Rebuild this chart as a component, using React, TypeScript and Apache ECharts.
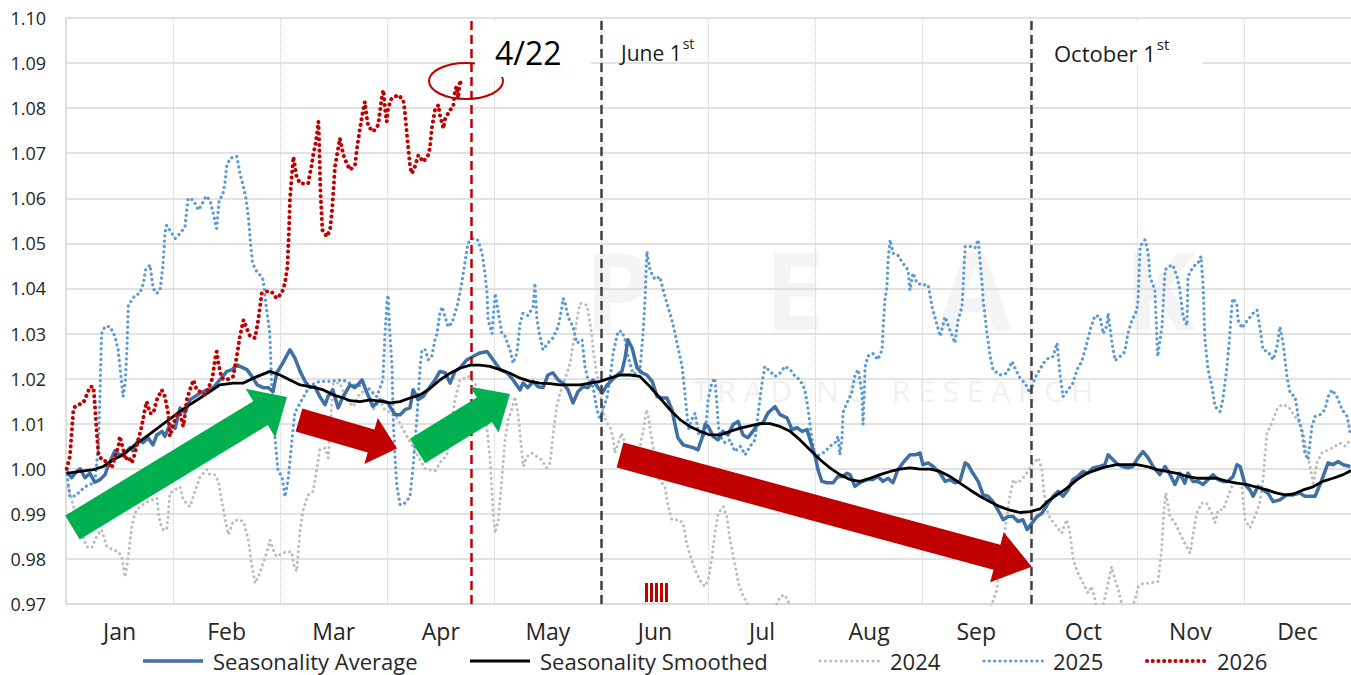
import React, { useEffect, useRef } from "react";
import * as echarts from "echarts";

// ---------- DATA ----------
const MONTHS = ["Jan", "Feb", "Mar", "Apr", "May", "Jun", "Jul", "Aug", "Sep", "Oct", "Nov", "Dec"];
const Y_MIN = 0.97;
const Y_MAX = 1.1;
const Y_STEP = 0.01;
const YEAR_DAYS = 365;
// vertical marker positions (day of year)
const MARK_APR22 = 115.2;
const MARK_JUN1 = 152.1;
const MARK_OCT1 = 274.3;
const SERIES_NAMES = ["Seasonality Average", "Seasonality Smoothed", "2024", "2025", "2026"];

// [day of year, value]
const seasonalityAverage: [number, number][] = [
  [0.2, 0.9994], [1.6, 0.998], [2.6, 0.999], [4.0, 1.0], [5.4, 0.998], [6.8, 0.999], [8.2, 0.997], [9.7, 0.9976],
  [11.1, 0.9987], [11.9, 1.0005], [13.9, 1.004], [15.3, 1.003], [16.8, 1.0035], [18.2, 1.0047], [19.0, 1.004],
  [20.5, 1.0064], [21.9, 1.0058], [23.3, 1.0069], [24.7, 1.0053], [25.8, 1.0075], [27.3, 1.0083], [28.1, 1.0072],
  [29.5, 1.0098], [31.0, 1.009], [32.4, 1.0135], [33.8, 1.0124], [35.2, 1.0153], [36.6, 1.016], [38.1, 1.0168],
  [40.1, 1.0175], [41.8, 1.018], [43.7, 1.0197], [45.7, 1.0216], [47.2, 1.022], [48.6, 1.023], [49.4, 1.0227],
  [51.4, 1.022], [52.8, 1.0205], [54.3, 1.0186], [56.0, 1.018], [57.4, 1.018], [58.8, 1.0171], [59.9, 1.0213],
  [61.6, 1.0235], [63.6, 1.0264], [65.0, 1.0246], [66.5, 1.0216], [67.9, 1.0194], [69.3, 1.018], [70.7, 1.0182],
  [72.1, 1.016], [73.6, 1.0142], [74.4, 1.016], [75.8, 1.0175], [77.3, 1.0135], [78.7, 1.016], [80.7, 1.0186],
  [82.1, 1.018], [84.1, 1.0197], [85.5, 1.0168], [87.2, 1.0138], [89.2, 1.0153], [91.5, 1.0146], [92.0, 1.0138],
  [93.5, 1.012], [94.9, 1.012], [96.3, 1.0131], [97.7, 1.0135], [98.6, 1.0175], [100.0, 1.0153], [101.4, 1.016],
  [103.4, 1.0182], [104.8, 1.0197], [106.2, 1.0216], [107.7, 1.0213], [109.1, 1.019], [110.5, 1.0216], [111.9, 1.0224],
  [113.9, 1.0242], [115.6, 1.0249], [117.6, 1.0257], [119.6, 1.026], [121.3, 1.0242], [123.3, 1.022], [125.3, 1.0213],
  [127.0, 1.0197], [129.0, 1.0175], [129.8, 1.019], [131.2, 1.018], [132.7, 1.0194], [134.1, 1.0182], [135.5, 1.018],
  [136.9, 1.0208], [138.3, 1.0213], [139.8, 1.0197], [141.2, 1.019], [142.6, 1.0175], [144.0, 1.0146], [145.4, 1.0171],
  [146.9, 1.0182], [148.3, 1.018], [149.7, 1.0197], [151.1, 1.018], [152.3, 1.0168], [153.7, 1.0186], [155.1, 1.0197],
  [156.5, 1.0208], [157.9, 1.0216], [158.8, 1.0246], [159.6, 1.0286], [160.8, 1.0268], [162.2, 1.0224], [163.6, 1.0213],
  [165.0, 1.0208], [166.5, 1.0194], [167.9, 1.016], [169.3, 1.0157], [170.7, 1.0157], [172.1, 1.0131], [173.0, 1.0098],
  [173.8, 1.0069], [175.3, 1.0053], [176.7, 1.005], [178.1, 1.0047], [179.5, 1.0042], [180.7, 1.0069], [181.5, 1.0098],
  [182.4, 1.0094], [183.8, 1.0072], [185.2, 1.0064], [186.6, 1.0083], [188.0, 1.0075], [189.5, 1.0098], [190.9, 1.0105],
  [192.3, 1.0075], [193.7, 1.0069], [195.1, 1.0083], [196.5, 1.0098], [198.0, 1.0102], [199.4, 1.0124], [201.4, 1.0138],
  [202.8, 1.012], [204.8, 1.0113], [206.2, 1.0087], [207.6, 1.0091], [209.1, 1.0083], [210.5, 1.0087], [211.9, 1.005],
  [212.8, 1.0027], [213.6, 0.9998], [214.7, 0.9972], [216.2, 0.9969], [217.9, 0.9969], [219.3, 0.9983], [220.7, 0.9983],
  [221.8, 0.999], [222.7, 0.9987], [224.1, 0.9961], [225.5, 0.9969], [227.5, 0.9976], [229.2, 0.9976], [230.6, 0.9983],
  [232.1, 0.9972], [233.5, 0.9979], [234.9, 0.9969], [236.3, 0.9998], [237.7, 1.0013], [239.7, 1.0031], [241.2, 1.0031],
  [242.6, 1.0035], [243.4, 1.0009], [244.9, 1.0013], [246.3, 1.0005], [248.3, 0.999], [249.7, 0.9972], [251.1, 0.9976],
  [252.5, 0.9969], [253.9, 0.9972], [255.4, 1.0013], [256.2, 1.0009], [257.6, 0.999], [259.1, 0.9972], [260.5, 0.9942],
  [261.9, 0.9939], [263.3, 0.9927], [264.7, 0.9909], [266.2, 0.9887], [267.6, 0.9894], [269.0, 0.9894], [270.4, 0.9883],
  [271.8, 0.9887], [273.0, 0.9865], [274.4, 0.988], [275.8, 0.9894], [277.3, 0.9902], [278.7, 0.992], [280.4, 0.9939],
  [281.8, 0.995], [283.2, 0.9939], [284.6, 0.9953], [286.0, 0.9976], [287.4, 0.9983], [288.8, 0.9994], [290.2, 0.999],
  [291.7, 1.0002], [293.7, 1.0005], [295.1, 1.0009], [296.0, 1.0031], [297.4, 1.002], [298.8, 1.0009], [300.2, 1.0005],
  [301.6, 1.0002], [303.0, 1.0005], [304.5, 1.0024], [305.9, 1.0038], [307.4, 1.0024], [308.8, 1.0005], [310.7, 0.9987],
  [312.2, 1.0005], [313.6, 0.9987], [315.0, 0.9965], [316.4, 0.999], [317.8, 0.9968], [318.7, 0.999], [320.1, 0.9972],
  [321.5, 0.9972], [323.0, 0.9965], [324.4, 0.9976], [325.8, 0.9987], [327.2, 0.9976], [328.6, 0.9972], [330.0, 0.9972],
  [331.5, 0.9983], [332.6, 1.0009], [333.5, 1.0005], [334.9, 0.9965], [336.3, 0.9953], [337.2, 0.9939], [338.6, 0.9961],
  [340.0, 0.9953], [341.4, 0.9946], [342.9, 0.9927], [344.8, 0.9931], [346.8, 0.9942], [348.6, 0.9942], [350.5, 0.9946],
  [351.9, 0.9939], [353.4, 0.9939], [354.8, 0.9939], [356.2, 0.9965], [357.6, 0.9994], [358.5, 1.0013], [359.9, 1.0009],
  [361.3, 1.0016], [362.8, 1.0009], [364.8, 1.0005],
];

const seasonalitySmoothed: [number, number][] = [
  [0.2, 0.999], [4.0, 0.9994], [7.8, 0.9998], [10.6, 1.0005], [13.4, 1.002], [16.3, 1.0031], [19.1, 1.005],
  [22.9, 1.0072], [26.7, 1.0094], [30.5, 1.0116], [34.3, 1.0138], [38.1, 1.0157], [40.9, 1.0171], [43.7, 1.0186],
  [47.5, 1.019], [50.4, 1.019], [53.2, 1.0201], [56.0, 1.021], [57.9, 1.0216], [60.8, 1.0208], [63.6, 1.0197],
  [66.5, 1.0186], [70.2, 1.0181], [73.1, 1.0175], [75.9, 1.0164], [78.8, 1.0157], [80.7, 1.0151], [83.5, 1.0149],
  [86.4, 1.0153], [90.1, 1.0149], [92.0, 1.0146], [94.9, 1.0149], [97.7, 1.0157], [100.6, 1.0164], [103.4, 1.0178],
  [106.2, 1.0197], [109.1, 1.0212], [111.9, 1.0223], [114.8, 1.023], [117.6, 1.023], [120.4, 1.0227], [123.3, 1.022],
  [126.1, 1.0212], [129.0, 1.0201], [131.8, 1.0194], [134.6, 1.019], [137.5, 1.0189], [140.3, 1.0186], [143.2, 1.0186],
  [146.0, 1.0186], [148.8, 1.019], [151.7, 1.0194], [154.5, 1.0201], [157.4, 1.0208], [160.2, 1.0208], [163.0, 1.0205],
  [165.9, 1.0182], [168.7, 1.0157], [171.6, 1.0131], [174.4, 1.0109], [177.2, 1.0094], [180.1, 1.0083], [182.9, 1.0075],
  [185.8, 1.0075], [188.6, 1.0083], [191.5, 1.009], [194.3, 1.0095], [197.1, 1.01], [200.0, 1.01], [202.8, 1.0094],
  [205.7, 1.0083], [208.5, 1.0064], [211.3, 1.0042], [214.2, 1.002], [217.0, 1.0002], [219.8, 0.9987], [222.7, 0.9976],
  [225.5, 0.9972], [228.4, 0.9979], [231.2, 0.9987], [234.1, 0.9994], [236.9, 0.9999], [239.7, 1.0002], [242.6, 0.9999],
  [245.4, 0.9999], [248.3, 0.9994], [251.1, 0.9983], [253.9, 0.9968], [256.8, 0.9953], [259.6, 0.9939], [262.5, 0.9927],
  [265.3, 0.9916], [268.1, 0.9908], [271.0, 0.9903], [273.8, 0.9905], [276.7, 0.9911], [278.7, 0.9927], [281.5, 0.9942],
  [284.3, 0.9957], [287.2, 0.9976], [290.0, 0.999], [292.9, 0.9998], [295.7, 1.0005], [298.5, 1.0009], [301.4, 1.0009],
  [304.2, 1.0009], [307.1, 1.0005], [309.9, 0.9998], [312.7, 0.9994], [315.6, 0.999], [318.4, 0.9983], [321.2, 0.9979],
  [324.1, 0.9979], [326.9, 0.9979], [329.8, 0.9972], [332.6, 0.9968], [335.5, 0.9965], [338.3, 0.9959], [341.1, 0.9953],
  [344.0, 0.9946], [346.3, 0.9942], [348.6, 0.9944], [351.4, 0.9953], [354.2, 0.996], [357.0, 0.9972], [359.9, 0.9979],
  [362.8, 0.9987], [365.0, 0.9996],
];

const year2024: [number, number][] = [
  [0.6, 0.996], [1.6, 0.9931], [3.0, 0.9894], [4.5, 0.9857], [5.9, 0.9827], [7.3, 0.9824], [8.7, 0.985], [10.1, 0.9865],
  [11.6, 0.9827], [13.4, 0.982], [14.9, 0.9816], [15.8, 0.9805], [16.8, 0.976], [17.7, 0.9805], [18.7, 0.9872],
  [19.6, 0.9902], [20.1, 0.9909], [22.4, 0.9924], [25.8, 0.9935], [26.2, 0.9909], [26.7, 0.988], [27.6, 0.9865],
  [28.6, 0.9865], [29.1, 0.9902], [29.5, 0.9946], [32.4, 0.996], [33.3, 0.9931], [35.2, 0.9916], [36.2, 0.9939],
  [37.1, 0.996], [38.1, 0.9983], [40.0, 0.9998], [40.9, 0.9987], [42.3, 0.9987], [43.3, 0.9972], [44.2, 0.9931],
  [45.2, 0.9887], [46.1, 0.9854], [47.5, 0.9883], [48.9, 0.9887], [50.4, 0.9883], [51.8, 0.9842], [52.7, 0.979],
  [53.7, 0.9746], [54.6, 0.976], [56.0, 0.979], [57.5, 0.9827], [57.9, 0.9842], [58.9, 0.982], [59.8, 0.9805],
  [61.3, 0.9812], [62.7, 0.9816], [64.1, 0.9816], [64.6, 0.979], [65.5, 0.9772], [66.5, 0.9865], [67.4, 0.9909],
  [68.8, 0.9942], [70.2, 0.995], [71.2, 0.9998], [72.1, 1.0042], [73.6, 1.0046], [74.5, 1.0024], [75.9, 1.019],
  [77.8, 1.019], [79.7, 1.0153], [81.6, 1.0138], [83.5, 1.0168], [85.4, 1.0175], [87.3, 1.0131], [89.2, 1.0153],
  [90.6, 1.013], [93.5, 1.012], [96.3, 1.008], [99.1, 1.004], [102.0, 1.0], [104.8, 0.9995], [106.8, 1.002],
  [108.1, 1.0027], [110.5, 1.0153], [111.9, 1.0197], [114.3, 1.0205], [116.2, 1.019], [119.5, 1.0094], [120.4, 1.0027],
  [120.9, 0.996], [121.4, 0.9894], [121.9, 0.9857], [122.8, 0.9887], [123.8, 0.9976], [124.7, 1.0064], [125.6, 1.0109],
  [126.6, 1.0131], [127.5, 1.016], [128.5, 1.0116], [129.4, 1.0042], [129.9, 1.0005], [130.9, 1.0027], [132.3, 1.0035],
  [133.7, 1.0027], [135.1, 1.002], [136.5, 1.0002], [137.5, 1.0013], [138.4, 1.0079], [139.4, 1.0138], [140.3, 1.0168],
  [141.7, 1.0197], [143.2, 1.0234], [144.1, 1.0279], [145.1, 1.033], [146.0, 1.0367], [147.9, 1.0363], [148.4, 1.0345],
  [149.3, 1.03], [149.8, 1.026], [150.7, 1.0212], [151.7, 1.0168], [152.6, 1.0123], [153.6, 1.0101], [154.5, 1.0094],
  [155.5, 1.0064], [155.9, 1.0035], [157.8, 1.0079], [158.8, 1.0057], [160.2, 1.004], [161.6, 0.9998], [163.9, 1.008],
  [164.9, 1.0131], [165.4, 1.0116], [166.4, 1.0064], [168.2, 0.998], [170.1, 0.996], [171.1, 0.9916], [172.1, 0.9887],
  [173.9, 0.9887], [175.3, 0.988], [176.3, 0.9834], [177.7, 0.9798], [179.1, 0.9768], [180.6, 0.9746], [181.5, 0.9739],
  [182.4, 0.9753], [183.4, 0.9798], [184.3, 0.9857], [185.3, 0.9902], [186.7, 0.9916], [187.7, 0.9894], [188.6, 0.9842],
  [190.0, 0.979], [191.0, 0.9746], [192.4, 0.9716], [193.4, 0.9705], [195.0, 0.966], [199.0, 0.965], [202.8, 0.9716],
  [204.2, 0.972], [205.2, 0.9705], [207.0, 0.965], [215.0, 0.96], [230.0, 0.958], [245.0, 0.962], [260.0, 0.963],
  [263.4, 0.9709], [264.4, 0.9731], [265.3, 0.9798], [266.7, 0.9865], [268.1, 0.9939], [269.1, 0.9976], [270.1, 0.9968],
  [271.5, 0.9976], [272.9, 0.999], [274.8, 1.0013], [276.2, 1.0024], [277.2, 0.9998], [277.7, 0.9953], [278.6, 0.9909],
  [279.5, 0.989], [281.4, 0.9872], [282.8, 0.9857], [284.2, 0.9887], [285.2, 0.9857], [286.1, 0.9798], [287.5, 0.9768],
  [288.9, 0.9746], [290.3, 0.9724], [291.3, 0.9739], [292.3, 0.9709], [293.5, 0.966], [295.6, 0.9731], [297.0, 0.9783],
  [298.0, 0.9753], [298.9, 0.9731], [299.8, 0.9702], [301.5, 0.966], [303.6, 0.9709], [304.6, 0.9739], [306.0, 0.9746],
  [307.9, 0.9746], [310.2, 0.975], [311.2, 0.982], [311.8, 0.9902], [312.4, 0.9946], [313.6, 0.9894], [315.0, 0.988],
  [316.4, 0.9857], [318.3, 0.9827], [319.3, 0.9813], [320.2, 0.9857], [321.2, 0.9902], [322.6, 0.9924], [324.0, 0.9924],
  [325.4, 0.9902], [326.4, 0.988], [327.3, 0.9909], [328.7, 0.9909], [330.1, 0.9939], [331.1, 0.996], [332.6, 0.9972],
  [334.0, 0.996], [334.9, 0.9887], [336.3, 0.9869], [337.7, 0.9894], [339.1, 0.9924], [340.1, 0.9983], [341.1, 1.0079],
  [342.5, 1.0101], [343.9, 1.0131], [345.3, 1.0142], [347.2, 1.0138], [349.1, 1.0116], [350.5, 1.0101], [351.5, 1.0079],
  [352.4, 1.0035], [353.4, 1.0005], [354.3, 0.9968], [355.3, 1.0013], [356.7, 1.0035], [358.6, 1.0042], [360.5, 1.005],
  [361.9, 1.0057], [363.4, 1.005], [364.8, 1.0064],
];

const year2025: [number, number][] = [
  [0.3, 0.9987], [1.1, 0.9938], [2.6, 0.994], [4.0, 0.995], [5.4, 0.996], [6.8, 0.9965], [8.2, 0.997], [9.2, 1.005],
  [9.7, 1.018], [10.1, 1.03], [11.1, 1.0316], [12.5, 1.0315], [13.9, 1.0294], [14.8, 1.0264], [15.3, 1.0227],
  [16.2, 1.016], [16.8, 1.019], [17.3, 1.0264], [17.7, 1.0363], [18.7, 1.0374], [19.6, 1.0385], [21.0, 1.0389],
  [22.0, 1.0412], [22.6, 1.0441], [23.9, 1.0452], [24.3, 1.0426], [24.8, 1.04], [25.8, 1.0389], [26.7, 1.0396],
  [27.5, 1.0448], [28.1, 1.0522], [28.6, 1.054], [29.5, 1.0529], [31.0, 1.0511], [32.4, 1.0522], [33.8, 1.0537],
  [34.3, 1.0574], [34.7, 1.06], [36.2, 1.0596], [37.6, 1.0574], [38.5, 1.0585], [39.8, 1.0605], [40.9, 1.0596],
  [41.8, 1.0567], [42.8, 1.0533], [43.5, 1.0596], [44.5, 1.0607], [45.2, 1.0637], [45.6, 1.067], [46.6, 1.0689],
  [48.5, 1.0693], [49.4, 1.0655], [50.4, 1.0626], [51.1, 1.06], [51.8, 1.0559], [52.3, 1.0508], [53.0, 1.0456],
  [54.2, 1.0437], [55.1, 1.043], [56.0, 1.0419], [56.5, 1.0385], [57.0, 1.0352], [57.9, 1.03], [58.4, 1.019],
  [59.4, 1.0064], [60.2, 0.9998], [61.4, 0.998], [62.2, 0.9938], [63.1, 0.9976], [64.2, 1.0064], [65.0, 1.0124],
  [66.5, 1.0146], [69.3, 1.0185], [72.1, 1.0194], [75.0, 1.0194], [78.7, 1.0197], [81.6, 1.0186], [85.4, 1.0182],
  [88.3, 1.016], [90.0, 1.0197], [90.6, 1.03], [91.2, 1.0374], [91.5, 1.0385], [92.0, 1.03], [92.6, 1.0227],
  [92.9, 1.0116], [93.5, 1.002], [94.0, 0.996], [94.9, 0.992], [96.3, 0.9924], [97.7, 0.9938], [98.6, 1.0005],
  [99.7, 1.0116], [100.6, 1.0227], [101.1, 1.0264], [102.0, 1.0264], [102.9, 1.0242], [103.9, 1.0249], [104.8, 1.0286],
  [105.4, 1.03], [106.2, 1.0345], [106.8, 1.0359], [107.7, 1.0337], [108.5, 1.0315], [109.6, 1.0323], [110.5, 1.0345],
  [111.3, 1.0367], [112.4, 1.0412], [113.3, 1.0456], [114.2, 1.0501], [115.6, 1.0511], [117.0, 1.0507], [118.2, 1.0478],
  [119.0, 1.0434], [119.6, 1.0389], [119.9, 1.033], [121.0, 1.03], [121.9, 1.0389], [123.8, 1.03], [124.7, 1.0294],
  [126.1, 1.0264], [127.0, 1.0234], [128.1, 1.0257], [129.0, 1.0323], [129.8, 1.0345], [131.2, 1.034], [132.7, 1.0359],
  [133.2, 1.0412], [133.8, 1.033], [134.6, 1.0294], [135.5, 1.0264], [136.9, 1.0279], [138.3, 1.029], [139.8, 1.0315],
  [140.9, 1.0359], [141.2, 1.0378], [141.7, 1.037], [142.6, 1.0337], [144.0, 1.0315], [145.1, 1.0279], [146.6, 1.0286],
  [147.4, 1.0227], [148.3, 1.0197], [149.7, 1.0182], [150.8, 1.0131], [151.7, 1.0109], [152.5, 1.0131], [153.7, 1.016],
  [154.5, 1.0197], [155.4, 1.0256], [156.8, 1.0305], [157.9, 1.0305], [158.8, 1.0286], [159.6, 1.025], [161.1, 1.021],
  [163.0, 1.0215], [163.9, 1.03], [164.5, 1.038], [165.0, 1.0482], [165.9, 1.044], [167.3, 1.042], [168.7, 1.0426],
  [169.6, 1.0397], [171.0, 1.0359], [172.1, 1.033], [173.0, 1.03], [173.8, 1.027], [175.0, 1.0227], [175.8, 1.0168],
  [176.8, 1.0087], [177.7, 1.0109], [178.7, 1.0123], [179.6, 1.0079], [181.5, 1.0072], [182.4, 1.0153], [183.4, 1.019],
  [184.3, 1.0201], [184.8, 1.0153], [185.3, 1.0094], [185.8, 1.0072], [187.2, 1.0058], [188.6, 1.0064], [190.0, 1.0038],
  [191.5, 1.005], [192.9, 1.0031], [194.3, 1.005], [195.7, 1.0064], [196.5, 1.0116], [197.7, 1.019], [198.5, 1.0227],
  [200.0, 1.0216], [201.4, 1.0205], [202.8, 1.0212], [204.2, 1.0227], [205.7, 1.022], [207.1, 1.0205], [208.5, 1.0197],
  [209.9, 1.0175], [210.8, 1.0131], [211.9, 1.0064], [212.8, 1.0027], [214.2, 1.0031], [215.6, 1.0038], [217.0, 1.005],
  [218.4, 1.0057], [219.3, 1.0072], [219.8, 1.0031], [220.4, 1.0064], [220.7, 1.0124], [221.8, 1.0146], [223.2, 1.0168],
  [224.1, 1.0208], [225.0, 1.022], [226.1, 1.0168], [226.4, 1.0098], [227.0, 1.0227], [227.8, 1.025], [229.2, 1.0256],
  [230.6, 1.0242], [231.8, 1.0264], [232.1, 1.0315], [232.6, 1.0374], [233.2, 1.0404], [233.5, 1.0463], [234.1, 1.0508],
  [234.9, 1.0478], [236.3, 1.0474], [237.7, 1.0456], [239.2, 1.0441], [239.7, 1.0396], [240.6, 1.0434], [241.7, 1.0412],
  [243.1, 1.0408], [244.9, 1.0408], [246.0, 1.0359], [248.3, 1.0294], [249.7, 1.0337], [251.1, 1.0307], [252.5, 1.0279],
  [253.4, 1.033], [254.5, 1.0359], [255.4, 1.0493], [256.8, 1.0493], [258.2, 1.049], [259.1, 1.0508], [260.2, 1.0412],
  [260.5, 1.0374], [261.6, 1.03], [262.5, 1.025], [263.3, 1.022], [265.3, 1.0208], [267.3, 1.0212], [268.7, 1.0238],
  [269.6, 1.0223], [271.0, 1.0201], [272.4, 1.019], [273.8, 1.0168], [275.2, 1.0201], [277.6, 1.0234], [279.0, 1.0245],
  [280.4, 1.0249], [281.5, 1.0279], [282.3, 1.0212], [283.2, 1.016], [284.6, 1.0175], [286.0, 1.019], [287.2, 1.022],
  [288.5, 1.0238], [290.0, 1.0279], [290.9, 1.0308], [292.3, 1.034], [293.7, 1.0337], [294.6, 1.03], [295.7, 1.0318],
  [296.0, 1.0345], [297.1, 1.0279], [298.0, 1.024], [299.4, 1.0249], [300.8, 1.026], [301.6, 1.03], [302.8, 1.033],
  [304.2, 1.0352], [304.5, 1.0374], [305.1, 1.0493], [306.5, 1.0508], [307.4, 1.0478], [307.9, 1.0426], [309.3, 1.0396],
  [310.1, 1.0249], [311.3, 1.0315], [312.2, 1.0441], [313.0, 1.0448], [314.4, 1.0452], [315.6, 1.0426], [316.4, 1.0396],
  [317.3, 1.0337], [318.4, 1.0318], [318.7, 1.0426], [320.1, 1.0448], [321.5, 1.0456], [322.4, 1.0471], [323.0, 1.0404],
  [323.5, 1.0286], [324.4, 1.022], [325.5, 1.0182], [326.4, 1.0138], [327.8, 1.0127], [328.6, 1.0153], [329.8, 1.0227],
  [330.6, 1.03], [331.2, 1.0367], [331.5, 1.0378], [332.6, 1.0363], [332.9, 1.033], [334.1, 1.0312], [334.9, 1.0323],
  [335.7, 1.033], [337.2, 1.0345], [338.3, 1.0352], [339.1, 1.0315], [340.0, 1.0264], [341.4, 1.026], [342.9, 1.0242],
  [344.0, 1.0271], [344.8, 1.0315], [345.7, 1.0279], [346.8, 1.0205], [347.7, 1.0168], [349.1, 1.016], [350.0, 1.0116],
  [351.1, 1.0079], [351.9, 1.0035], [352.8, 1.002], [353.9, 1.0094], [354.8, 1.0116], [356.2, 1.012], [357.6, 1.0131],
  [358.5, 1.016], [359.6, 1.0175], [361.0, 1.016], [362.5, 1.0131], [363.9, 1.0116], [364.8, 1.0079],
];

const year2026: [number, number][] = [
  [0.2, 1.0], [1.1, 1.0027], [1.6, 1.0079], [2.1, 1.0131], [2.6, 1.0138], [3.5, 1.0142], [4.9, 1.0146], [5.9, 1.0164],
  [6.8, 1.0182], [7.8, 1.0182], [8.2, 1.0142], [8.7, 1.0083], [9.2, 1.0035], [10.1, 1.002], [11.6, 1.0016], [13.0, 1.0002],
  [13.9, 1.0027], [14.9, 1.005], [15.3, 1.0072], [16.3, 1.0042], [16.8, 1.002], [17.7, 1.0027], [18.7, 1.0013],
  [19.6, 1.0035], [20.5, 1.0064], [21.5, 1.0094], [22.4, 1.0131], [22.9, 1.0149], [23.9, 1.0123], [24.8, 1.0123],
  [25.8, 1.0153], [27.2, 1.0175], [28.1, 1.016], [29.1, 1.012], [29.5, 1.0072], [30.5, 1.0098], [31.4, 1.012],
  [32.4, 1.0123], [33.3, 1.0094], [33.8, 1.012], [34.3, 1.0153], [35.2, 1.0175], [36.2, 1.0197], [37.1, 1.0175],
  [38.1, 1.0171], [39.5, 1.0164], [40.4, 1.0178], [41.4, 1.0197], [41.8, 1.0212], [42.3, 1.0242], [42.8, 1.026],
  [43.3, 1.0234], [44.2, 1.0201], [45.6, 1.0197], [47.5, 1.0205], [48.5, 1.0249], [49.4, 1.0294], [50.4, 1.033],
  [51.3, 1.0312], [52.3, 1.0294], [53.7, 1.029], [54.6, 1.033], [55.1, 1.0359], [55.6, 1.0389], [57.0, 1.0393],
  [58.4, 1.0393], [59.8, 1.0378], [61.3, 1.0389], [62.2, 1.0412], [62.9, 1.0448], [63.3, 1.0522], [63.6, 1.0596],
  [64.1, 1.0648], [64.6, 1.0692], [65.5, 1.0648], [66.5, 1.0633], [68.8, 1.0633], [69.3, 1.0655], [69.8, 1.0674],
  [70.2, 1.0696], [70.7, 1.0714], [71.2, 1.0737], [71.7, 1.077], [71.9, 1.073], [72.1, 1.067], [72.3, 1.0611],
  [72.6, 1.0567], [72.8, 1.053], [74.1, 1.0515], [75.0, 1.053], [75.5, 1.0567], [75.9, 1.0611], [76.4, 1.067],
  [77.3, 1.0711], [77.8, 1.0733], [78.8, 1.0696], [79.7, 1.0678], [80.7, 1.0663], [82.1, 1.0674], [82.7, 1.0714],
  [83.5, 1.0755], [84.4, 1.0796], [84.9, 1.0814], [85.4, 1.0781], [85.9, 1.0759], [87.3, 1.0748], [88.7, 1.0763],
  [89.3, 1.08], [89.8, 1.083], [90.2, 1.084], [90.6, 1.08], [91.1, 1.077], [91.5, 1.08], [92.5, 1.0822], [94.4, 1.0829],
  [95.8, 1.0818], [96.3, 1.0789], [96.8, 1.0744], [97.2, 1.0714], [97.7, 1.0674], [98.2, 1.0655], [99.1, 1.067],
  [100.1, 1.0696], [101.5, 1.0681], [102.9, 1.0696], [103.4, 1.0714], [103.9, 1.0755], [104.8, 1.0796], [105.8, 1.0807],
  [106.2, 1.0785], [107.2, 1.0755], [107.7, 1.0777], [109.1, 1.0796], [110.0, 1.0803], [110.5, 1.084], [111.0, 1.0848],
  [111.4, 1.0822], [111.9, 1.0862], [112.4, 1.0844],
];

// ---------- STYLE ----------
const FONT = "'Open Sans', 'Noto Sans', sans-serif";
const C_AVG = "#3f6fa3";
const C_SMOOTH = "#000000";
const C_2024 = "#bdbdbd";
const C_2025 = "#5b9bd5";
const C_2026 = "#c00000";
const C_GREEN = "#00b050";
const C_RED = "#c00000";

const dotted = (color: string, width: number, gap: number) => ({
  color,
  width,
  type: [0.1, gap] as any,
  cap: "round" as const,
});

const LINE_STYLES: Record<string, any> = {
  "Seasonality Average": { color: C_AVG, width: 3.5, join: "round" },
  "Seasonality Smoothed": { color: C_SMOOTH, width: 2.8 },
  "2024": dotted(C_2024, 3, 5.2),
  "2025": dotted(C_2025, 3.2, 5.2),
  "2026": dotted(C_2026, 4, 5.6),
};

function arrowPoints(sx: number, sy: number, tx: number, ty: number, sw: number, hw: number, hl: number) {
  const dx = tx - sx;
  const dy = ty - sy;
  const len = Math.hypot(dx, dy);
  const ux = dx / len;
  const uy = dy / len;
  const nx = -uy;
  const ny = ux;
  const bx = tx - ux * hl;
  const by = ty - uy * hl;
  return [
    [sx + (nx * sw) / 2, sy + (ny * sw) / 2],
    [bx + (nx * sw) / 2, by + (ny * sw) / 2],
    [bx + (nx * hw) / 2, by + (ny * hw) / 2],
    [tx, ty],
    [bx - (nx * hw) / 2, by - (ny * hw) / 2],
    [bx - (nx * sw) / 2, by - (ny * sw) / 2],
    [sx - (nx * sw) / 2, sy - (ny * sw) / 2],
  ];
}

function superText(x: number, y: number, main: string, sup: string, size: number) {
  return {
    type: "text",
    z: 102,
    x,
    y,
    style: {
      text: `{a|${main}}{b|${sup}}`,
      align: "left",
      verticalAlign: "middle",
      rich: {
        a: { fontSize: size, fontFamily: FONT, fill: "#1a1a1a", lineHeight: size + 6, verticalAlign: "bottom" },
        b: {
          fontSize: Math.round(size * 0.68),
          fontFamily: FONT,
          fill: "#1a1a1a",
          lineHeight: size + 6,
          verticalAlign: "top",
          padding: [0, 0, 0, 1],
        },
      },
    },
  };
}

function buildLegend() {
  // legend placement: [line start x, text start x]
  const slots: [number, number][] = [
    [143, 213],
    [470, 540],
    [820, 890],
    [984, 1053],
    [1147, 1217],
  ];
  const y = 661;
  const els: any[] = [];
  SERIES_NAMES.forEach((name, i) => {
    const ls = LINE_STYLES[name];
    const [lx, tx] = slots[i];
    els.push({
      type: "line",
      z: 50,
      silent: true,
      shape: { x1: lx, y1: y, x2: lx + 60, y2: y },
      style: {
        stroke: ls.color,
        lineWidth: ls.width,
        lineDash: Array.isArray(ls.type) ? ls.type : null,
        lineCap: Array.isArray(ls.type) ? "round" : "butt",
      },
    });
    els.push({
      type: "text",
      z: 50,
      x: tx,
      y,
      style: { text: name, font: `22px ${FONT}`, fill: "#262626", align: "left", verticalAlign: "middle" },
    });
  });
  return els;
}

function buildOption() {
  const watermark: any[] = [
    {
      type: "text",
      x: 890,
      y: 288,
      z: 0,
      silent: true,
      style: {
        text: "P    E    A    K",
        fill: "#f4f4f4",
        font: `bold 108px ${FONT}`,
        align: "center",
        verticalAlign: "middle",
      },
    },
    {
      type: "text",
      x: 893,
      y: 390,
      z: 0,
      silent: true,
      style: {
        text: "T R A D I N G   R E S E A R C H",
        fill: "#f1f1f1",
        font: `30px ${FONT}`,
        align: "center",
        verticalAlign: "middle",
      },
    },
  ];

  const arrows = [
    { pts: arrowPoints(72.5, 527.5, 287, 397, 28, 57, 31), fill: C_GREEN },
    { pts: arrowPoints(299, 420, 397, 448.5, 24, 48, 27), fill: C_RED },
    { pts: arrowPoints(417.5, 451, 510, 394, 29, 54, 30), fill: C_GREEN },
    { pts: arrowPoints(620, 455, 1031.7, 566.7, 26, 52, 36), fill: C_RED },
  ].map((a) => ({ type: "polygon", z: 100, silent: true, shape: { points: a.pts }, style: { fill: a.fill } }));

  const bars = [645, 650, 655, 660, 665].map((x) => ({
    type: "rect",
    z: 100,
    silent: true,
    shape: { x, y: 583, width: 3, height: 19 },
    style: { fill: C_RED },
  }));

  const annotations: any[] = [
    {
      type: "ellipse",
      z: 100,
      silent: true,
      shape: { cx: 466, cy: 81, rx: 37, ry: 18 },
      style: { fill: "none", stroke: C_RED, lineWidth: 2 },
    },
    { type: "rect", z: 101, silent: true, shape: { x: 475, y: 21, width: 116, height: 56 }, style: { fill: "#ffffff" } },
    {
      type: "text",
      z: 102,
      x: 495,
      y: 52,
      style: { text: "4/22", font: `32px ${FONT}`, fill: "#000000", align: "left", verticalAlign: "middle" },
    },
    superText(621, 50, "June 1", "st", 21),
    { type: "rect", z: 101, silent: true, shape: { x: 1035, y: 21, width: 168, height: 45 }, style: { fill: "#ffffff" } },
    superText(1054, 50, "October 1", "st", 22),
  ];

  const mkSeries = (name: string, data: [number, number][], z: number, extra: any = {}) => ({
    name,
    type: "line",
    xAxisIndex: 0,
    data,
    showSymbol: false,
    symbol: "none",
    z,
    lineStyle: LINE_STYLES[name],
    itemStyle: { color: LINE_STYLES[name].color },
    ...extra,
  });

  return {
    animation: false,
    backgroundColor: "#ffffff",
    textStyle: { fontFamily: FONT },
    grid: { left: 66, right: 0, top: 18, bottom: 71, containLabel: false },
    legend: { show: false, data: SERIES_NAMES },
    xAxis: [
      {
        type: "value",
        min: 0,
        max: YEAR_DAYS,
        interval: YEAR_DAYS / 12,
        axisLabel: { show: false },
        axisTick: { show: false },
        axisLine: { show: true, lineStyle: { color: "#d9d9d9", width: 1.5 } },
        splitLine: { show: true, lineStyle: { type: "dotted", color: "#cfcfcf", width: 1 } },
      },
      {
        type: "category",
        data: MONTHS,
        boundaryGap: true,
        position: "bottom",
        axisLine: { show: false },
        axisTick: { show: false },
        splitLine: { show: false },
        axisLabel: { fontSize: 23, color: "#262626", margin: 15, fontFamily: FONT },
      },
    ],
    yAxis: {
      type: "value",
      min: Y_MIN,
      max: Y_MAX,
      interval: Y_STEP,
      axisLine: { show: true, lineStyle: { color: "#d9d9d9", width: 1.5 } },
      axisTick: { show: false },
      axisLabel: {
        fontSize: 18,
        color: "#262626",
        margin: 20,
        fontFamily: FONT,
        formatter: (v: number) => v.toFixed(2),
      },
      splitLine: { show: true, lineStyle: { color: "#d9d9d9", width: 1.5 } },
    },
    series: [
      mkSeries("2024", year2024, 2),
      mkSeries("2025", year2025, 3),
      mkSeries("Seasonality Average", seasonalityAverage, 4),
      mkSeries("Seasonality Smoothed", seasonalitySmoothed, 5),
      mkSeries("2026", year2026, 6, {
        markLine: {
          silent: true,
          symbol: ["none", "none"],
          label: { show: false },
          lineStyle: { type: [9, 5], width: 2.5 },
          data: [
            { xAxis: MARK_APR22, lineStyle: { color: C_RED, type: [9, 5], width: 2.5 } },
            { xAxis: MARK_JUN1, lineStyle: { color: "#404040", type: [9, 5], width: 2.5 } },
            { xAxis: MARK_OCT1, lineStyle: { color: "#404040", type: [9, 5], width: 2.5 } },
          ],
        },
      }),
    ],
    graphic: { elements: [...watermark, ...arrows, ...bars, ...annotations, ...buildLegend()] },
  };
}

export default function App() {
  const ref = useRef<HTMLDivElement>(null);
  useEffect(() => {
    if (!ref.current) return;
    const chart = echarts.init(ref.current, null, { renderer: "svg" });
    chart.setOption(buildOption() as any);
    return () => chart.dispose();
  }, []);
  return (
    <div
      ref={ref}
      style={{ position: "fixed", left: 0, top: 0, width: 1351, height: 675, background: "#ffffff" }}
    />
  );
}
